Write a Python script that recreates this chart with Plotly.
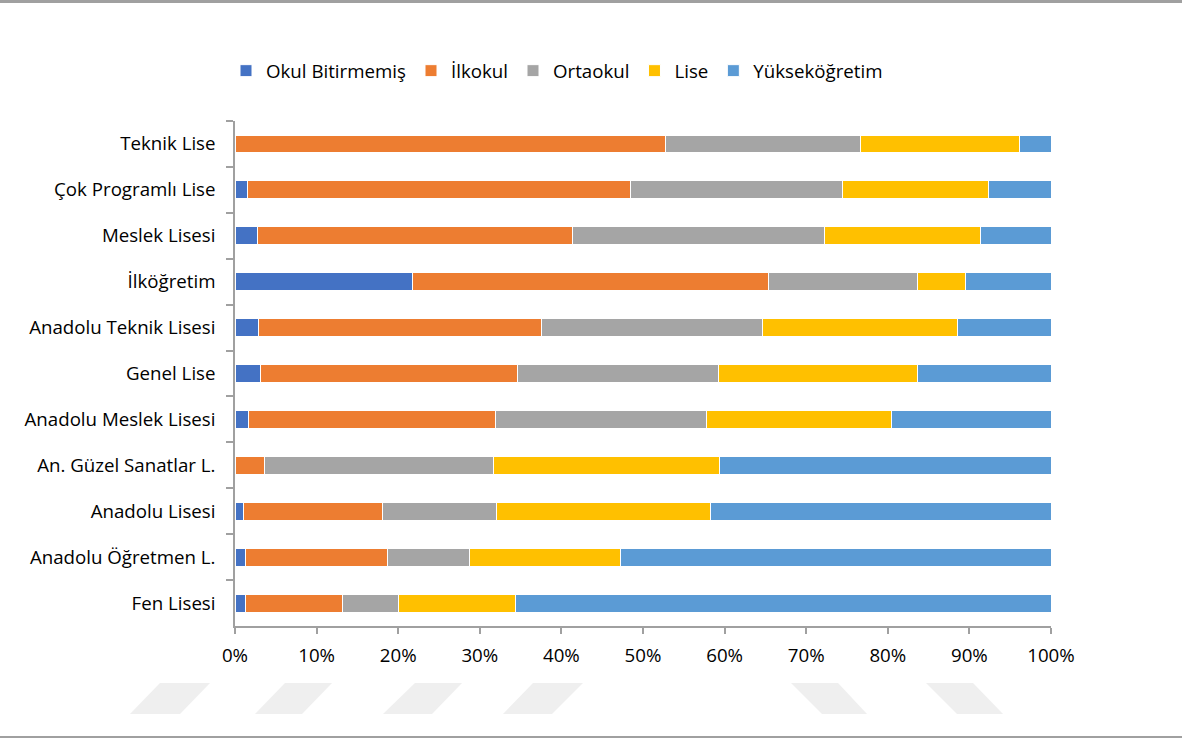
import plotly.graph_objects as go

categories = ["Teknik Lise", "Çok Programlı Lise", "Meslek Lisesi", "İlköğretim",
              "Anadolu Teknik Lisesi", "Genel Lise", "Anadolu Meslek Lisesi",
              "An. Güzel Sanatlar L.", "Anadolu Lisesi", "Anadolu Öğretmen L.", "Fen Lisesi"]

okul_bitirmemis = [0.0, 1.5, 2.8, 21.8, 2.9, 3.1, 1.6, 0.0, 1.0, 1.3, 1.3]
ilkokul        = [52.8, 47.0, 38.6, 43.6, 34.6, 31.5, 30.3, 3.6, 17.1, 17.4, 11.9]
ortaokul       = [23.9, 26.0, 30.9, 18.3, 27.2, 24.7, 25.9, 28.1, 13.9, 10.0, 6.8]
lise           = [19.4, 17.8, 19.1, 5.8, 23.9, 24.4, 22.7, 27.7, 26.3, 18.5, 14.4]
yuksekogretim  = [3.9, 7.7, 8.6, 10.5, 11.4, 16.3, 19.5, 40.6, 41.7, 52.8, 65.6]

series_names = ["Okul Bitirmemiş", "İlkokul", "Ortaokul", "Lise", "Yükseköğretim"]
series_values = [okul_bitirmemis, ilkokul, ortaokul, lise, yuksekogretim]
colors = ["#4472C4", "#ED7D31", "#A5A5A5", "#FFC000", "#5B9BD5"]

tick_values = [0, 10, 20, 30, 40, 50, 60, 70, 80, 90, 100]
tick_labels = [f"{v}%" for v in tick_values]

FONT = "Open Sans"
FS = 18.7

fig = go.Figure()
for name, vals, col in zip(series_names, series_values, colors):
    fig.add_trace(go.Bar(
        y=categories, x=vals, name=name, orientation="h",
        marker=dict(color=col, line=dict(color="white", width=1)),
    ))

W, H = 1182, 738
L, R, T, B = 235, 1051, 121, 626
pw, ph = R - L, B - T

def px(x):
    return (x - L) / pw

def py(y):
    return (B - y) / ph

shapes = []
# top and bottom frame lines
shapes.append(dict(type="rect", xref="paper", yref="paper",
                   x0=px(0), x1=px(W), y0=py(3), y1=py(0),
                   fillcolor="#A0A0A0", line=dict(width=0), layer="below"))
shapes.append(dict(type="rect", xref="paper", yref="paper",
                   x0=px(0), x1=px(W), y0=py(738), y1=py(736),
                   fillcolor="#A0A0A0", line=dict(width=0), layer="below"))
# faint watermark parallelograms
para = [
    ((160, 210), (130, 180)),
    ((285, 332), (255, 302)),
    ((415, 462), (383, 432)),
    ((533, 583), (503, 552)),
    ((791, 838), (822, 867)),
    ((926, 973), (957, 1003)),
]
yt, yb = 683, 714
for (tx0, tx1), (bx0, bx1) in para:
    path = (f"M {px(tx0)} {py(yt)} L {px(tx1)} {py(yt)} "
            f"L {px(bx1)} {py(yb)} L {px(bx0)} {py(yb)} Z")
    shapes.append(dict(type="path", xref="paper", yref="paper", path=path,
                       fillcolor="#EFEFEF", line=dict(width=0), layer="below"))

fig.update_layout(
    width=W, height=H,
    margin=dict(l=L, r=W - R, t=T, b=H - B, pad=0),
    barmode="stack",
    bargap=0.61,
    plot_bgcolor="white", paper_bgcolor="white",
    font=dict(family=FONT, size=FS, color="#000000"),
    showlegend=True,
    legend=dict(orientation="h", xref="container", yref="container",
                x=226 / W, y=1 - 52 / H, xanchor="left", yanchor="top",
                traceorder="normal", font=dict(family=FONT, size=FS, color="#000000"),
                itemwidth=30, tracegroupgap=0),
    xaxis=dict(range=[0, 100], tickvals=tick_values, ticktext=tick_labels,
               showgrid=False, zeroline=False, showline=True, linecolor="#A0A0A0",
               linewidth=1.5, ticks="outside", ticklen=6, tickcolor="#A0A0A0",
               tickwidth=1.5, ticklabelstandoff=6,
               tickfont=dict(family=FONT, size=FS, color="#000000")),
    yaxis=dict(categoryorder="array", categoryarray=categories, autorange="reversed",
               showgrid=False, zeroline=False, showline=True, linecolor="#A0A0A0",
               linewidth=1.5, ticks="outside", ticklen=7, tickcolor="#A0A0A0",
               tickwidth=1.5, tickson="boundaries", ticklabelstandoff=14,
               tickfont=dict(family=FONT, size=FS, color="#000000")),
    shapes=shapes,
)

fig.write_html("out.html")
